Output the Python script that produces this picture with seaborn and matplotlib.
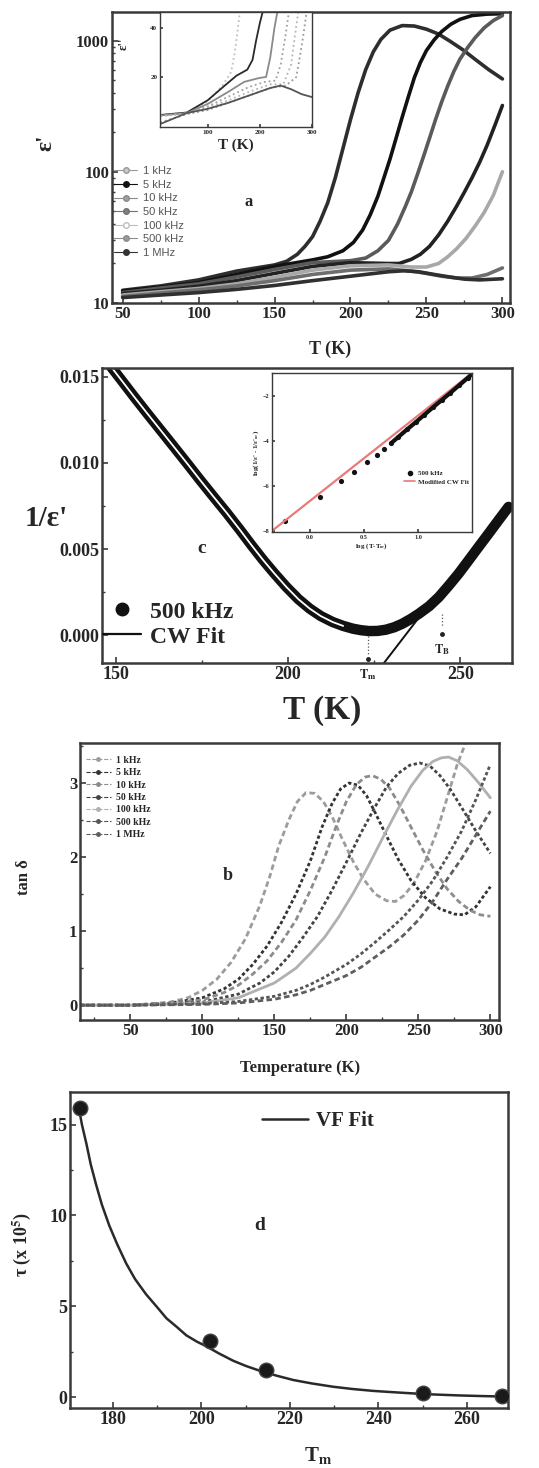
import matplotlib
matplotlib.use("Agg")
import matplotlib.pyplot as plt
from matplotlib.lines import Line2D
from matplotlib.ticker import MultipleLocator, FixedLocator, NullFormatter, FormatStrFormatter, LogLocator
import seaborn as sns

W, H = 539, 1468

sns.set_theme(style="white")
plt.rcParams['font.family'] = ['Liberation Serif', 'DejaVu Serif']
plt.rcParams['font.weight'] = 'bold'
plt.rcParams['axes.labelweight'] = 'bold'
plt.rcParams['mathtext.fontset'] = 'stix'

FREQS = ["1 kHz", "5 kHz", "10 kHz", "50 kHz", "100 kHz", "500 kHz", "1 MHz"]

# ---------- (a) dielectric constant vs temperature (log scale) ----------
EPS_T_1K = [50, 75, 100, 125, 150, 158, 165, 170, 175, 180, 185, 190, 195, 200, 205, 210, 215, 220,
            226, 234, 242, 250, 258, 266, 274, 282, 291, 300]
EPS_1K = [12.5, 13.5, 15, 17.5, 19.5, 20.8, 23.5, 27, 32, 42, 58, 90, 150, 250, 400, 600, 820, 1020,
          1200, 1300, 1290, 1220, 1120, 980, 850, 720, 600, 510]
EPS_T_5K = [50, 75, 100, 125, 150, 175, 185, 195, 202, 208, 213, 218, 222, 226, 230, 234, 238, 242,
            246, 250, 255, 260, 266, 272, 280, 290, 300]
EPS_5K = [12.3, 13.2, 14.3, 16.5, 19, 21.3, 22.5, 25, 29, 36, 47, 65, 90, 125, 180, 260, 370, 520,
          680, 840, 1010, 1170, 1330, 1450, 1550, 1590, 1600]
EPS_T_10K = [50, 75, 100, 125, 150, 175, 200, 210, 218, 225, 231, 236, 240, 244, 248, 252, 256, 260,
             264, 268, 272, 277, 282, 288, 294, 300]
EPS_10K = [12, 13, 14, 15.8, 18, 20.3, 21, 22, 25, 30, 40, 54, 70, 95, 130, 180, 250, 340, 450, 580,
           720, 880, 1050, 1250, 1420, 1550]
EPS_T_50K = [50, 75, 100, 125, 150, 175, 200, 225, 232, 240, 246, 252, 258, 264, 270, 275, 280, 285,
             290, 295, 300]
EPS_50K = [11.8, 12.5, 13.4, 14.8, 16.8, 19, 20.3, 20, 20, 21.5, 23.5, 27, 33, 42, 55, 70, 90, 118,
           160, 225, 320]
EPS_T_100K = [50, 75, 100, 125, 150, 175, 200, 225, 240, 250, 258, 264, 270, 276, 282, 288, 294, 300]
EPS_100K = [11.5, 12.2, 12.9, 14, 15.7, 17.8, 19.2, 19.5, 18.8, 18.8, 20, 22.5, 26, 31, 38.5, 49, 66, 100]
EPS_T_500K = [50, 75, 100, 125, 150, 175, 200, 225, 240, 250, 260, 270, 280, 290, 300]
EPS_500K = [11.2, 11.9, 12.6, 13.5, 14.8, 16.5, 17.8, 18.2, 17.5, 16.8, 16, 15.5, 15.5, 16.5, 18.5]
EPS_T_1M = [50, 75, 100, 125, 150, 175, 200, 225, 235, 245, 255, 265, 275, 285, 300]
EPS_1M = [11, 11.5, 12, 12.7, 13.6, 14.8, 16, 17.3, 17.6, 17.3, 16.5, 15.8, 15.2, 15, 15.3]

# inset of (a): loss part vs temperature
INS_T_1K = [9, 60, 100, 130, 145, 152, 158, 162]
INS_1K = [4.5, 5.5, 10, 17, 22, 30, 40, 47]
INS_T_5K = [9, 60, 100, 130, 155, 176, 186, 193, 200, 206]
INS_5K = [4.5, 5.5, 10.5, 16, 20.5, 23, 27, 35, 42, 47]
INS_T_10K = [9, 60, 100, 140, 170, 199, 212, 220, 228, 234]
INS_10K = [4.3, 5.3, 9, 14, 18, 19.6, 20, 28, 40, 47]
INS_T_50K = [9, 60, 100, 140, 180, 210, 230, 240, 250, 256]
INS_50K = [4.2, 5.2, 8, 12, 16, 18, 18.5, 25, 38, 47]
INS_T_100K = [9, 60, 100, 140, 180, 220, 245, 260, 268, 274]
INS_100K = [4, 5, 7.5, 10.5, 14, 17, 17, 25, 38, 47]
INS_T_500K = [9, 60, 100, 140, 180, 220, 250, 270, 282, 290]
INS_500K = [1.5, 4.8, 6.5, 9.5, 12.5, 15.5, 16.5, 20, 35, 47]
INS_T_1M = [9, 60, 100, 140, 180, 220, 240, 260, 280, 300]
INS_1M = [0.8, 5.3, 7, 9.5, 12.5, 15.5, 16.5, 15, 13, 11.8]

# ---------- (c) inverse permittivity at 500 kHz ----------
INV_T = [148.6, 152, 155.3, 159, 163, 167, 170.7, 174.5, 178.4, 182.2, 186.1, 189.5, 192.8, 196,
         199.5, 203, 206.3, 209.5, 213, 216, 218.8, 221.2, 223.6, 226, 228.4, 230.8, 233.2, 235.6,
         238, 241, 243.8, 246.7, 249.5, 252.4, 255.3, 258.2, 261.1, 264]
INV_EPS = [0.01558, 0.0147, 0.01384, 0.0129, 0.0119, 0.0109, 0.00997, 0.0090, 0.00803, 0.0071,
           0.0061, 0.0052, 0.00436, 0.0036, 0.00281, 0.0021, 0.00155, 0.00112, 0.00077, 0.00055,
           0.00039, 0.0003, 0.00025, 0.00026, 0.00033, 0.00047, 0.00068, 0.00095, 0.00126, 0.0017,
           0.00223, 0.0029, 0.00358, 0.00435, 0.00513, 0.0059, 0.00668, 0.00745]
CW_FIT_T = [227.8, 239.0]
CW_FIT_INV = [-0.00161, 0.00130]
T_M = 223.1
T_B = 244.7

# inset of (c): modified Curie-Weiss plot
MCW_LOGT = [-0.23, 0.093, 0.287, 0.41, 0.525, 0.618, 0.688, 0.75, 0.82, 0.90, 0.98, 1.06, 1.14,
            1.22, 1.30, 1.38, 1.46, 1.50]
MCW_LOGE = [-7.56, -6.52, -5.78, -5.38, -4.96, -4.64, -4.37, -4.12, -3.83, -3.50, -3.18, -2.85,
            -2.52, -2.20, -1.88, -1.55, -1.22, -1.05]
MCW_FIT_X = [-0.35, 1.5]
MCW_FIT_Y = [-8.0, -1.0]

# ---------- (b) loss tangent ----------
TAN_T_1K = [15, 50, 75, 90, 100, 110, 120, 130, 140, 147, 153, 160, 166, 172, 178, 184, 190, 197,
            205, 212, 220, 228, 234, 240, 247, 255, 263, 270, 277, 284]
TAN_1K = [0, 0, 0.03, 0.1, 0.2, 0.35, 0.58, 0.9, 1.35, 1.75, 2.15, 2.5, 2.75, 2.87, 2.86, 2.75, 2.55,
          2.25, 1.93, 1.7, 1.5, 1.41, 1.4, 1.48, 1.65, 1.95, 2.35, 2.8, 3.25, 3.6]
TAN_T_5K = [15, 50, 75, 100, 115, 125, 135, 145, 155, 165, 175, 183, 190, 196, 202, 208, 214, 220,
            228, 236, 245, 255, 265, 275, 282, 290, 300]
TAN_5K = [0, 0, 0.02, 0.1, 0.22, 0.35, 0.55, 0.8, 1.12, 1.5, 1.95, 2.4, 2.72, 2.92, 3.0, 2.97, 2.83,
          2.6, 2.28, 1.97, 1.68, 1.45, 1.3, 1.23, 1.22, 1.33, 1.6]
TAN_T_10K = [15, 50, 100, 115, 125, 135, 145, 155, 165, 175, 185, 193, 200, 207, 213, 218, 224, 230,
             237, 245, 253, 262, 270, 278, 286, 293, 300]
TAN_10K = [0, 0, 0.07, 0.17, 0.27, 0.42, 0.6, 0.85, 1.15, 1.55, 2.0, 2.42, 2.75, 2.98, 3.08, 3.1,
           3.05, 2.93, 2.7, 2.4, 2.1, 1.8, 1.57, 1.4, 1.28, 1.22, 1.2]
TAN_T_50K = [15, 50, 100, 125, 140, 150, 160, 170, 180, 190, 200, 210, 220, 228, 236, 244, 251, 258,
             265, 272, 280, 290, 300]
TAN_50K = [0, 0, 0.04, 0.15, 0.3, 0.45, 0.66, 0.92, 1.2, 1.55, 1.93, 2.32, 2.68, 2.95, 3.13, 3.24,
           3.27, 3.23, 3.1, 2.92, 2.67, 2.35, 2.05]
TAN_T_100K = [15, 50, 100, 125, 150, 165, 175, 185, 195, 205, 215, 225, 235, 245, 253, 260, 266, 271,
              277, 284, 292, 300]
TAN_100K = [0, 0, 0.03, 0.1, 0.3, 0.5, 0.7, 0.92, 1.2, 1.52, 1.87, 2.25, 2.62, 2.96, 3.17, 3.29, 3.34,
            3.35, 3.3, 3.18, 3.0, 2.8]
TAN_T_500K = [15, 50, 100, 125, 150, 165, 175, 185, 200, 210, 220, 230, 240, 250, 260, 270, 280, 290, 300]
TAN_500K = [0, 0, 0.02, 0.05, 0.12, 0.2, 0.28, 0.38, 0.55, 0.69, 0.85, 1.02, 1.2, 1.42, 1.68, 2.0,
            2.35, 2.78, 3.25]
TAN_T_1M = [15, 50, 100, 125, 150, 165, 175, 185, 200, 210, 220, 230, 240, 250, 260, 270, 280, 290, 300]
TAN_1M = [0, 0, 0.01, 0.03, 0.08, 0.14, 0.2, 0.28, 0.4, 0.51, 0.65, 0.79, 0.95, 1.15, 1.4, 1.7, 1.98,
          2.3, 2.62]

# ---------- (d) relaxation time vs peak temperature ----------
TAU_TM = [172.5, 202.0, 214.5, 250.0, 268.0]
TAU = [15.9, 3.1, 1.5, 0.25, 0.08]
VF_T = [172.1, 173, 174, 175, 176.2, 177.5, 179.2, 181, 183, 185, 187.5, 190, 192.1, 194.5, 196.6,
        199, 201.1, 204, 207.2, 210, 213.2, 217, 220.8, 225, 229.8, 234, 238.9, 244, 248.7, 253,
        258.5, 263, 268.3]
VF_TAU = [16.2, 15.0, 13.96, 12.8, 11.7, 10.6, 9.43, 8.4, 7.36, 6.5, 5.66, 4.95, 4.34, 3.85, 3.4,
          3.05, 2.8, 2.4, 2.0, 1.72, 1.45, 1.18, 0.94, 0.75, 0.57, 0.45, 0.34, 0.26, 0.19, 0.14,
          0.09, 0.06, 0.03]


fig = plt.figure(figsize=(W / 100, H / 100), dpi=100)


def box(l, t, r, b):
    return [l / W, 1 - b / H, (r - l) / W, (b - t) / H]


def frame(ax, lw=1.8, size=11):
    for s in ax.spines.values():
        s.set_visible(True)
        s.set_color('#3a3a3a')
        s.set_linewidth(lw)
    ax.tick_params(which='both', direction='in', bottom=True, left=True, top=False, right=False,
                   color='#3a3a3a', labelsize=size, pad=2)
    ax.tick_params(which='major', length=4, width=1.2)
    ax.tick_params(which='minor', length=2, width=1.0)
    ax.grid(False)
    ax.set_xlabel('')
    ax.set_ylabel('')


def fx(x):
    return x / W


def fy(y):
    return 1 - y / H


# ======================= panel a =======================
ax_a = fig.add_axes(box(112, 12, 510, 303))
a_series = [
    (EPS_T_1K, EPS_1K, '#2e2e2e'),
    (EPS_T_5K, EPS_5K, '#111111'),
    (EPS_T_10K, EPS_10K, '#5a5a5a'),
    (EPS_T_50K, EPS_50K, '#222222'),
    (EPS_T_100K, EPS_100K, '#a8a8a8'),
    (EPS_T_500K, EPS_500K, '#6e6e6e'),
    (EPS_T_1M, EPS_1M, '#303030'),
]
for t, e, c in a_series:
    sns.lineplot(x=t, y=e, ax=ax_a, color=c, lw=2.6, estimator=None)
ax_a.set_yscale('log')
ax_a.set_xlim(43, 305)
ax_a.set_ylim(10, 1650)
ax_a.xaxis.set_major_locator(MultipleLocator(50))
ax_a.xaxis.set_minor_locator(MultipleLocator(25))
ax_a.yaxis.set_major_locator(FixedLocator([10, 100, 1000]))
ax_a.yaxis.set_major_formatter(FormatStrFormatter('%d'))
ax_a.yaxis.set_minor_locator(LogLocator(base=10, subs=range(2, 10)))
ax_a.yaxis.set_minor_formatter(NullFormatter())
frame(ax_a, size=12)
ax_a.set_xlabel('T (K)', fontsize=13, fontweight='bold')
ax_a.xaxis.set_label_coords(0.548, -0.128)
ax_a.set_ylabel("ε'", fontsize=17, fontweight='bold', rotation=90)
ax_a.yaxis.set_label_coords(-0.14, 0.55)

leg_style = [('#9a9a9a', '#c8c8c8'), ('#111111', '#111111'), ('#8a8a8a', '#a0a0a0'),
             ('#707070', '#808080'), ('#bdbdbd', 'white'), ('#8c8c8c', '#9a9a9a'), ('#333333', '#333333')]
handles_a = [Line2D([0], [0], color=c, lw=0.8, marker='o', ms=4, mfc=f, mec=c) for c, f in leg_style]
leg = ax_a.legend(handles_a, FREQS, loc='upper left', bbox_to_anchor=(-0.005, 0.485), frameon=False,
                  handlelength=2.0, handletextpad=0.6, labelspacing=0.32, borderaxespad=0,
                  prop={'family': 'Liberation Sans', 'size': 8, 'weight': 'normal'})
for txt in leg.get_texts():
    txt.set_color('#555555')
fig.text(fx(249), fy(202), 'a', fontsize=12, fontweight='bold', ha='center', va='center')

# inset of panel a
ax_ai = fig.add_axes(box(160, 12, 312, 127))
ins_series = [
    (INS_T_1K, INS_1K, '#c0c0c0', ':'),
    (INS_T_5K, INS_5K, '#2a2a2a', '-'),
    (INS_T_10K, INS_10K, '#8a8a8a', '-'),
    (INS_T_50K, INS_50K, '#a0a0a0', ':'),
    (INS_T_100K, INS_100K, '#b5b5b5', ':'),
    (INS_T_500K, INS_500K, '#9a9a9a', ':'),
    (INS_T_1M, INS_1M, '#555555', '-'),
]
for t, e, c, ls in ins_series:
    sns.lineplot(x=t, y=e, ax=ax_ai, color=c, lw=1.3, linestyle=ls, estimator=None)
ax_ai.set_xlim(8.6, 300)
ax_ai.set_ylim(-0.4, 46.5)
ax_ai.xaxis.set_major_locator(FixedLocator([100, 200, 300]))
ax_ai.yaxis.set_major_locator(FixedLocator([20, 40]))
frame(ax_ai, lw=1.0, size=5)
ax_ai.tick_params(which='major', length=2)
ax_ai.set_xlabel('T (K)', fontsize=11, fontweight='bold', labelpad=3)
ax_ai.set_ylabel("ε''", fontsize=9, rotation=90)
ax_ai.yaxis.set_label_coords(-0.2, 0.72)

# ======================= panel c =======================
ax_c = fig.add_axes(box(102, 368, 512, 663))
sns.lineplot(x=INV_T, y=INV_EPS, ax=ax_c, color='#111111', lw=7.5, estimator=None)
core_n = sum(1 for t in INV_T if t <= 218)
sns.lineplot(x=INV_T[:core_n], y=INV_EPS[:core_n], ax=ax_c, color='white', lw=1.3, estimator=None)
sns.lineplot(x=CW_FIT_T, y=CW_FIT_INV, ax=ax_c, color='#111111', lw=1.4, estimator=None)
ax_c.plot([T_M, T_M], [-0.00006, -0.00116], color='#555555', lw=0.9, ls=':')
ax_c.plot([T_M], [-0.00135], marker='o', ms=2.5, color='#222222')
ax_c.plot([T_B, T_B], [0.00126, 0.00048], color='#555555', lw=0.9, ls=':')
ax_c.plot([T_B], [0.0001], marker='o', ms=2.5, color='#222222')
ax_c.text(T_B, -0.0008, '$\\mathbf{T_B}$', fontsize=9, ha='center', va='center')
ax_c.text(T_M, -0.0023, '$\\mathbf{T_m}$', fontsize=9, ha='center', va='center', clip_on=False)
ax_c.set_xlim(146, 265)
ax_c.set_ylim(-0.0016, 0.0155)
ax_c.xaxis.set_major_locator(MultipleLocator(50))
ax_c.xaxis.set_minor_locator(MultipleLocator(25))
ax_c.yaxis.set_major_locator(MultipleLocator(0.005))
ax_c.yaxis.set_minor_locator(MultipleLocator(0.0025))
ax_c.yaxis.set_major_formatter(FormatStrFormatter('%.3f'))
frame(ax_c, size=13)
handles_c = [Line2D([0], [0], color='#111111', lw=0, marker='o', ms=9),
             Line2D([0], [0], color='#111111', lw=1.6)]
ax_c.legend(handles_c, ['500 kHz', 'CW Fit'], loc='lower left', bbox_to_anchor=(-0.02, 0.02),
            frameon=False, handlelength=1.6, handletextpad=0.4, labelspacing=0.15, borderaxespad=0,
            prop={'size': 17, 'weight': 'bold'})
fig.text(fx(202), fy(548), 'c', fontsize=14, fontweight='bold', ha='center', va='center')
fig.text(fx(46), fy(519), "1/ε'", fontsize=21, fontweight='bold', ha='center', va='center')
fig.text(fx(322), fy(710), 'T (K)', fontsize=24, fontweight='bold', ha='center', va='center')

# inset of panel c
ax_ci = fig.add_axes(box(272, 373, 472, 532))
sns.lineplot(x=MCW_FIT_X, y=MCW_FIT_Y, ax=ax_ci, color='#e87a7a', lw=1.6, estimator=None)
sns.scatterplot(x=MCW_LOGT, y=MCW_LOGE, ax=ax_ci, color='#111111', s=14, edgecolor='#111111', linewidth=0)
sns.lineplot(x=MCW_LOGT[7:], y=MCW_LOGE[7:], ax=ax_ci, color='#111111', lw=3.0, estimator=None)
ax_ci.set_xlim(-0.35, 1.5)
ax_ci.set_ylim(-8.05, -1.0)
ax_ci.xaxis.set_major_locator(FixedLocator([0.0, 0.5, 1.0]))
ax_ci.xaxis.set_major_formatter(FormatStrFormatter('%.1f'))
ax_ci.yaxis.set_major_locator(FixedLocator([-8, -6, -4, -2]))
frame(ax_ci, lw=1.0, size=4.5)
ax_ci.tick_params(which='major', length=2)
ax_ci.set_xlabel('log (T-T$_m$)', fontsize=5, labelpad=1)
ax_ci.set_ylabel("log(1/ε' - 1/ε'$_m$)", fontsize=5, labelpad=1)
handles_ci = [Line2D([0], [0], color='#111111', lw=0, marker='o', ms=3),
              Line2D([0], [0], color='#e87a7a', lw=1.2)]
ax_ci.legend(handles_ci, ['500 kHz', 'Modified CW Fit'], loc='lower right', bbox_to_anchor=(1.0, 0.28),
             frameon=False, handlelength=1.6, handletextpad=0.4, labelspacing=0.4, borderaxespad=0,
             prop={'size': 5, 'weight': 'bold'})

# ======================= panel b =======================
ax_b = fig.add_axes(box(80, 743, 499, 1020))
b_series = [
    (TAN_T_1K, TAN_1K, '#9c9c9c', (0, (2, 1.2))),
    (TAN_T_5K, TAN_5K, '#333333', (0, (1.2, 0.9))),
    (TAN_T_10K, TAN_10K, '#8c8c8c', (0, (2, 1.2))),
    (TAN_T_50K, TAN_50K, '#444444', (0, (1.2, 0.9))),
    (TAN_T_100K, TAN_100K, '#b0b0b0', '-'),
    (TAN_T_500K, TAN_500K, '#555555', (0, (1.2, 0.9))),
    (TAN_T_1M, TAN_1M, '#5e5e5e', (0, (2, 1.2))),
]
for t, v, c, ls in b_series:
    sns.lineplot(x=t, y=v, ax=ax_b, color=c, lw=2.0, linestyle=ls, estimator=None)
ax_b.set_xlim(15, 306)
ax_b.set_ylim(-0.2, 3.54)
ax_b.xaxis.set_major_locator(MultipleLocator(50))
ax_b.xaxis.set_minor_locator(MultipleLocator(25))
ax_b.yaxis.set_major_locator(MultipleLocator(1))
ax_b.yaxis.set_minor_locator(MultipleLocator(0.5))
frame(ax_b, size=12)
handles_b = [Line2D([0], [0], color=c, lw=0.8, ls='--', marker='o', ms=2.5) for _, _, c, _ in b_series]
ax_b.legend(handles_b, FREQS, loc='upper left', bbox_to_anchor=(0.0, 0.975), frameon=False,
            handlelength=2.6, handletextpad=0.5, labelspacing=0.35, borderaxespad=0.2,
            prop={'size': 7, 'weight': 'bold'})
fig.text(fx(228), fy(875), 'b', fontsize=13, fontweight='bold', ha='center', va='center')
fig.text(fx(24), fy(877), 'tan δ', fontsize=12, fontweight='bold', ha='center', va='center', rotation=90)
fig.text(fx(300), fy(1068), 'Temperature (K)', fontsize=12, fontweight='bold', ha='center', va='center')

# ======================= panel d =======================
ax_d = fig.add_axes(box(70, 1092, 508, 1408))
sns.lineplot(x=VF_T, y=VF_TAU, ax=ax_d, color='#2a2a2a', lw=1.8, estimator=None)
sns.scatterplot(x=TAU_TM, y=TAU, ax=ax_d, color='#1a1a1a', s=110, edgecolor='#444444', linewidth=1.0, zorder=3)
ax_d.set_xlim(170.3, 269.3)
ax_d.set_ylim(-0.6, 16.8)
ax_d.xaxis.set_major_locator(MultipleLocator(20))
ax_d.xaxis.set_minor_locator(MultipleLocator(10))
ax_d.yaxis.set_major_locator(MultipleLocator(5))
ax_d.yaxis.set_minor_locator(MultipleLocator(2.5))
frame(ax_d, size=13)
ax_d.legend([Line2D([0], [0], color='#2a2a2a', lw=1.8)], ['VF Fit'], loc='upper left',
            bbox_to_anchor=(0.42, 0.965), frameon=False, handlelength=2.2, handletextpad=0.4,
            borderaxespad=0, prop={'size': 15, 'weight': 'bold'})
fig.text(fx(260), fy(1225), 'd', fontsize=14, fontweight='bold', ha='center', va='center')
fig.text(fx(22), fy(1245), 'τ (x 10$^{5}$)', fontsize=13, fontweight='bold', ha='center', va='center', rotation=90)
fig.text(fx(318), fy(1455), 'T$_\\mathbf{m}$', fontsize=15, fontweight='bold', ha='center', va='center')

fig.savefig('out.png', dpi=100, facecolor='white')
